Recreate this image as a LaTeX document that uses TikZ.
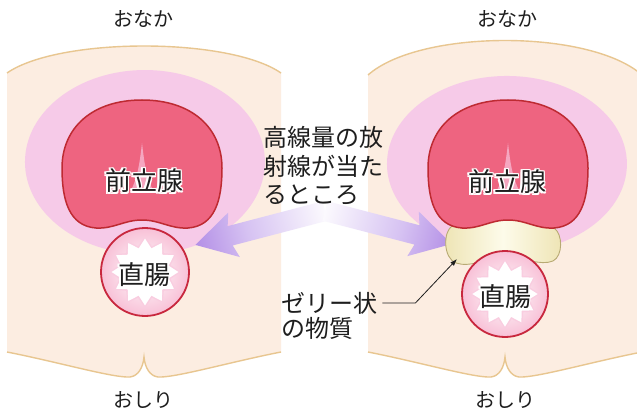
\documentclass[tikz,border=0pt]{standalone}
\usepackage{fontspec}
\newfontfamily\jp{Noto Sans CJK JP}
\usetikzlibrary{arrows.meta,fadings}

\definecolor{bodyfill}{HTML}{FCEDE1}
\definecolor{bodyline}{HTML}{E8C690}
\definecolor{halo}{HTML}{F6CAE8}
\definecolor{prostatefill}{HTML}{EE6480}
\definecolor{prostateline}{HTML}{BE2A32}
\definecolor{urethra}{HTML}{F5A6C0}
\definecolor{rectumline}{HTML}{C8283E}
\definecolor{rectumin}{HTML}{F7B9D2}
\definecolor{rectummid}{HTML}{EE7FAA}
\definecolor{rectumout}{HTML}{E0427E}
\definecolor{starglow}{HTML}{F9CDE0}
\definecolor{gelmid}{HTML}{FDFBEA}
\definecolor{geledge}{HTML}{EEE4B4}
\definecolor{gelline}{HTML}{B8AA74}
\definecolor{beam}{HTML}{A77DE2}
\definecolor{beamlight}{HTML}{D6C2F2}
\definecolor{textdark}{HTML}{1E1E1E}

% soft-edged halo around the prostate
\pgfdeclareradialshading{haloshade}{\pgfpointorigin}{color(0bp)=(pgftransparent!0); color(40bp)=(pgftransparent!0); color(50bp)=(pgftransparent!100)}
\pgfdeclarefading{halofade}{\pgfuseshading{haloshade}}
% radiation beam fading towards its tail
\pgfdeclarehorizontalshading{beamfade}{100bp}{color(0bp)=(white); color(22bp)=(white); color(55bp)=(beamlight); color(82bp)=(beam); color(100bp)=(beam)}
% rectum wall
\pgfdeclareradialshading{rectumshade}{\pgfpointorigin}{color(0bp)=(white); color(28bp)=(rectumin); color(39bp)=(rectummid); color(50bp)=(rectumout)}

% text with a thin white outline
\newcommand\haloshift[3]{\makebox[0pt][l]{\hspace*{#1}\raisebox{#2}{\textcolor{white}{#3}}}}
\newcommand\haloed[1]{%
  \haloshift{1.6pt}{0pt}{#1}\haloshift{-1.6pt}{0pt}{#1}%
  \haloshift{0pt}{1.6pt}{#1}\haloshift{0pt}{-1.6pt}{#1}%
  \haloshift{1.1pt}{1.1pt}{#1}\haloshift{1.1pt}{-1.1pt}{#1}%
  \haloshift{-1.1pt}{1.1pt}{#1}\haloshift{-1.1pt}{-1.1pt}{#1}%
  #1}

% cross-section of the body: #1 centre x, #2 top corner y, #3 top control y
\newcommand\drawtorso[3]{%
  \begin{scope}[shift={(#1,0)}]
    \fill[bodyfill] (-137,#2) .. controls (-85,#3) and (85,#3) .. (137,#2)
      -- (137,352) .. controls (86,362) and (31,378) .. (14,377)
      .. controls (6,376) and (1,368) .. (0,357)
      .. controls (-1,368) and (-6,376) .. (-14,377)
      .. controls (-31,378) and (-86,362) .. (-137,352) -- cycle;
    \draw[outline] (-137,#2) .. controls (-85,#3) and (85,#3) .. (137,#2);
    \draw[outline] (137,352) .. controls (86,362) and (31,378) .. (14,377)
      .. controls (6,376) and (1,368) .. (0,357)
      .. controls (-1,368) and (-6,376) .. (-14,377)
      .. controls (-31,378) and (-86,362) .. (-137,352);
  \end{scope}}

% prostate centred at x = #1
\newcommand\drawprostate[1]{%
  \begin{scope}[shift={(#1,0)}]
    \filldraw[fill=prostatefill, draw=prostateline, line width=1.5pt]
      (0,100) .. controls (50,100) and (80,128) .. (80,168)
      .. controls (80,200) and (73,226) .. (46,228)
      .. controls (28,229) and (18,220) .. (0,220)
      .. controls (-18,220) and (-28,229) .. (-46,228)
      .. controls (-73,226) and (-80,200) .. (-80,168)
      .. controls (-80,128) and (-50,100) .. (0,100) -- cycle;
    \fill[urethra] (0,143) .. controls (2,160) and (4,178) .. (12,192)
      -- (-12,192) .. controls (-4,178) and (-2,160) .. (0,143) -- cycle;
  \end{scope}}

% rectum centred at (#1,#2) with radius #3
\newcommand\drawrectum[3]{%
  \begin{scope}[shift={(#1,#2)}]
    \shade[shading=rectumshade] (0,0) circle[radius=#3];
    \fill[starglow] plot[domain=0:24, samples=25, variable=\k]
      ({cos(\k*15+90)*(0.81*#3-9*mod(round(\k),2))}, {sin(\k*15+90)*(0.81*#3-9*mod(round(\k),2))}) -- cycle;
    \fill[white] plot[domain=0:24, samples=25, variable=\k]
      ({cos(\k*15+90)*(0.76*#3-9*mod(round(\k),2))}, {sin(\k*15+90)*(0.76*#3-9*mod(round(\k),2))}) -- cycle;
    \draw[rectumline, line width=1.8pt] (0,0) circle[radius=#3];
  \end{scope}}

% beam arrow of length #1, drawn along +x from the tail
\newcommand\beamarrow[1]{%
  \shade[shading=beamfade] (0,-10) -- (#1-36,-10) -- (#1-40,-23) -- (#1,0)
    -- (#1-40,23) -- (#1-36,10) -- (0,10) -- cycle;}

\tikzset{
  outline/.style={draw=bodyline, line width=1.4pt},
  side/.style={font=\jp\fontsize{20}{20}\selectfont, text=textdark, inner sep=0pt},
  organ/.style={font=\jp\fontsize{26}{26}\selectfont, text=textdark, inner sep=0pt},
  note/.style={font=\jp\fontsize{24}{28.5}\selectfont, text=textdark, inner sep=0pt, align=left},
  leader/.style={draw=textdark, line width=0.8pt, -{Latex[length=7pt,width=5pt]}},
}

\begin{document}
\begin{tikzpicture}[x=1pt,y=-1pt]
\useasboundingbox (0,0) rectangle (637,417);
\fill[white] (0,0) rectangle (637,417);

\begin{scope}
\clip (0,0) rectangle (637,417);
\drawtorso{144}{73}{37}
\drawtorso{505}{75}{29}

\fill[halo, path fading=halofade] (145,162) ellipse [x radius=120, y radius=92];
\fill[halo, path fading=halofade] (507,164) ellipse [x radius=120, y radius=88];

% beams aimed at the tissue between prostate and rectum
\begin{scope}[transform canvas={shift={(325,211)}, rotate=194.66}]
  \beamarrow{134}
\end{scope}
\begin{scope}[transform canvas={shift={(325,211)}, rotate=-14.57}]
  \beamarrow{131}
\end{scope}

% gel spacer
\shade[left color=geledge, right color=geledge, middle color=gelmid, draw=gelline, line width=0.9pt]
  (452,226) .. controls (475,218) and (490,216) .. (507,216)
  .. controls (524,216) and (540,220) .. (554,228)
  .. controls (563,234) and (563,256) .. (553,261)
  .. controls (540,266) and (525,258) .. (507,256)
  .. controls (489,258) and (470,268) .. (456,263)
  .. controls (443,258) and (443,232) .. (452,226) -- cycle;

\drawprostate{142}
\drawprostate{508}
\drawrectum{145}{272}{44}
\drawrectum{505}{294}{43}
\end{scope}

\node[side] (belly1) at (143,19) {おなか};
\node[side] (belly2) at (507,19) {おなか};
\node[side] (hip1) at (143,400) {おしり};
\node[side] (hip2) at (505,400) {おしり};

\node[organ] (pro1) at (144,181) {\haloed{前立腺}};
\node[organ] (pro2) at (507,182) {\haloed{前立腺}};
\node[organ] (rec1) at (144,275) {\haloed{直腸}};
\node[organ] (rec2) at (505,297) {\haloed{直腸}};

\node[note, anchor=west] (dose) at (263,166) {高線量の放\\射線が当た\\るところ};
\node[note, anchor=west] (jelly1) at (281,303) {ゼリー状};
\node[note, anchor=west] (jelly2) at (281,328) {の物質};

\coordinate (geltip) at (457,259);
\draw[leader] ([xshift=5pt]jelly1.east) -- ++(33,0) -- (geltip);
\end{tikzpicture}
\end{document}
